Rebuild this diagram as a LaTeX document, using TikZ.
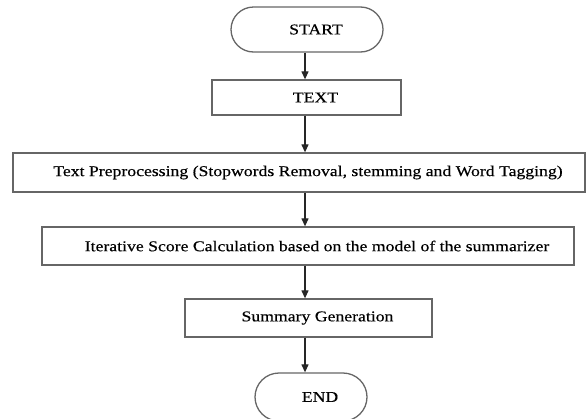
\documentclass[tikz,border=0pt]{standalone}
\usepackage{fontspec}
\setmainfont{Liberation Serif}[FakeStretch=1.18,FakeBold=0.4]
\usetikzlibrary{arrows.meta,shapes.misc,positioning}

\begin{document}
\begin{tikzpicture}[x=1pt,y=-1pt,
    font=\fontsize{15}{18}\selectfont,
    stepbox/.style={rectangle, draw=black!60, line width=1.3pt, inner sep=0pt,
      execute at begin node={\hspace*{18pt}}},
    termbox/.style={rounded rectangle, draw=black!60, line width=1.3pt, inner sep=0pt,
      execute at begin node={\hspace*{18pt}}},
    flow/.style={-{Triangle[length=8pt,width=7pt]}, line width=1.2pt, black!85}]
\useasboundingbox (0,0) rectangle (586,418);

\node (start) [termbox, minimum width=152pt, minimum height=45pt] at (307,29.5) {START};
\node (text) [stepbox, minimum width=189pt, minimum height=35pt] at (306.5,97.5) {TEXT};
\node (prep) [stepbox, minimum width=572pt, minimum height=39pt] at (299,172.5) {Text Preprocessing (Stopwords Removal, stemming and Word Tagging)};
\node (score) [stepbox, minimum width=532pt, minimum height=38pt] at (308,246) {Iterative Score Calculation based on the model of the summarizer};
\node (summ) [stepbox, minimum width=247pt, minimum height=38pt] at (308.5,318) {Summary Generation};
\node (end) [termbox, minimum width=112pt, minimum height=48pt] at (311,397) {END};

% arrows down the middle
\coordinate (mid) at (305,0);
\draw [flow] (mid |- start.south) -- (mid |- text.north);
\draw [flow] (mid |- text.south) -- (mid |- prep.north);
\draw [flow] (mid |- prep.south) -- (mid |- score.north);
\draw [flow] (mid |- score.south) -- (mid |- summ.north);
\draw [flow] (mid |- summ.south) -- (mid |- end.north);
\end{tikzpicture}
\end{document}
